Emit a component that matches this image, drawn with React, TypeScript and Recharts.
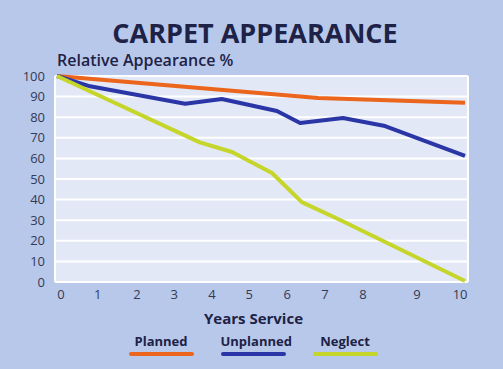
import { LineChart, Line, XAxis, YAxis, CartesianGrid, Legend } from "recharts"

const plannedYears = [0, 6.4, 10]
const plannedValues = [100, 89.3, 87]

const unplannedYears = [0, 0.81, 3.14, 4.04, 5.39, 5.96, 7.01, 8.04, 10]
const unplannedValues = [100, 95, 86.5, 88.8, 83, 77.2, 79.6, 75.7, 61.2]

const neglectYears = [0, 3.5, 4.29, 5.27, 6.0, 6.94, 10]
const neglectValues = [100, 67.8, 63.1, 52.9, 38.8, 30.1, 0.5]

// where the year labels sit under the axis (they are not evenly spaced)
const xTickPositions = [0.1, 1.0, 1.96, 2.87, 3.8, 4.71, 5.64, 6.57, 7.5, 8.82, 9.88]
const xTickLabels = ["0", "1", "2", "3", "4", "5", "6", "7", "8", "9", "10"]
const yTicks = [0, 10, 20, 30, 40, 50, 60, 70, 80, 90, 100]

const navy = "#1d2246"
const font = "'Open Sans', sans-serif"

const toPoints = (xs: number[], ys: number[]) => xs.map((x, i) => ({ year: x, value: ys[i] }))

const series = [
  { name: "Planned", color: "#ec651c", data: toPoints(plannedYears, plannedValues) },
  { name: "Unplanned", color: "#2a35a6", data: toPoints(unplannedYears, unplannedValues) },
  { name: "Neglect", color: "#c6d52a", data: toPoints(neglectYears, neglectValues) },
]

function LegendBox() {
  // keep the drawing order, not the alphabetical payload order
  return (
    <div style={{ position: "relative", left: 19, display: "flex", justifyContent: "center", gap: 27, paddingTop: 11 }}>
      {series.map((s) => (
        <div key={s.name} style={{ width: 65, textAlign: "center" }}>
          <div style={{ fontFamily: font, fontWeight: 700, fontSize: 13, color: navy, lineHeight: "16px" }}>
            {s.name}
          </div>
          <div style={{ height: 4, borderRadius: 2, background: s.color, marginTop: 3 }} />
        </div>
      ))}
    </div>
  )
}

export default function App() {
  return (
    <div style={{ position: "absolute", left: 0, top: 0, width: 503, height: 369, background: "#b8c8ea", overflow: "hidden" }}>
      <div style={{ position: "absolute", left: 0, width: 510, top: 19, textAlign: "center", fontFamily: font, fontWeight: 700, fontSize: 27, lineHeight: 1, color: navy }}>
        CARPET APPEARANCE
      </div>
      <div style={{ position: "absolute", left: 57, top: 52, fontFamily: font, fontWeight: 600, fontSize: 16, lineHeight: 1, color: navy }}>
        Relative Appearance %
      </div>
      <LineChart width={503} height={369} margin={{ top: 76, right: 35, bottom: 0, left: 0 }}>
        <CartesianGrid
          stroke="#ffffff"
          strokeWidth={2}
          fill="#e2e8f6"
          fillOpacity={1}
          verticalCoordinatesGenerator={({ offset }: any) => [offset.left, offset.left + offset.width]}
        />
        <XAxis
          type="number"
          dataKey="year"
          domain={[0, 10]}
          ticks={xTickPositions}
          interval={0}
          tickFormatter={(v: number) => xTickLabels[xTickPositions.indexOf(v)]}
          padding={{ left: 2, right: 3 }}
          axisLine={false}
          tickLine={false}
          height={40}
          tick={{ fill: "#333a55", fontSize: 13, fontFamily: font }}
          label={{ value: "Years Service", position: "insideBottom", offset: -2, dx: -8, fill: navy, fontSize: 15, fontWeight: 700, fontFamily: font }}
        />
        <YAxis
          type="number"
          domain={[0, 100]}
          ticks={yTicks}
          interval={0}
          width={55}
          axisLine={false}
          tickLine={false}
          tickMargin={4}
          tick={{ fill: "#333a55", fontSize: 13, fontFamily: font }}
        />
        <Legend verticalAlign="bottom" height={47} content={<LegendBox />} />
        {series.map((s) => (
          <Line
            key={s.name}
            data={s.data}
            dataKey="value"
            name={s.name}
            stroke={s.color}
            strokeWidth={4}
            dot={false}
            activeDot={false}
            strokeLinejoin="round"
            isAnimationActive={false}
          />
        ))}
      </LineChart>
    </div>
  )
}
